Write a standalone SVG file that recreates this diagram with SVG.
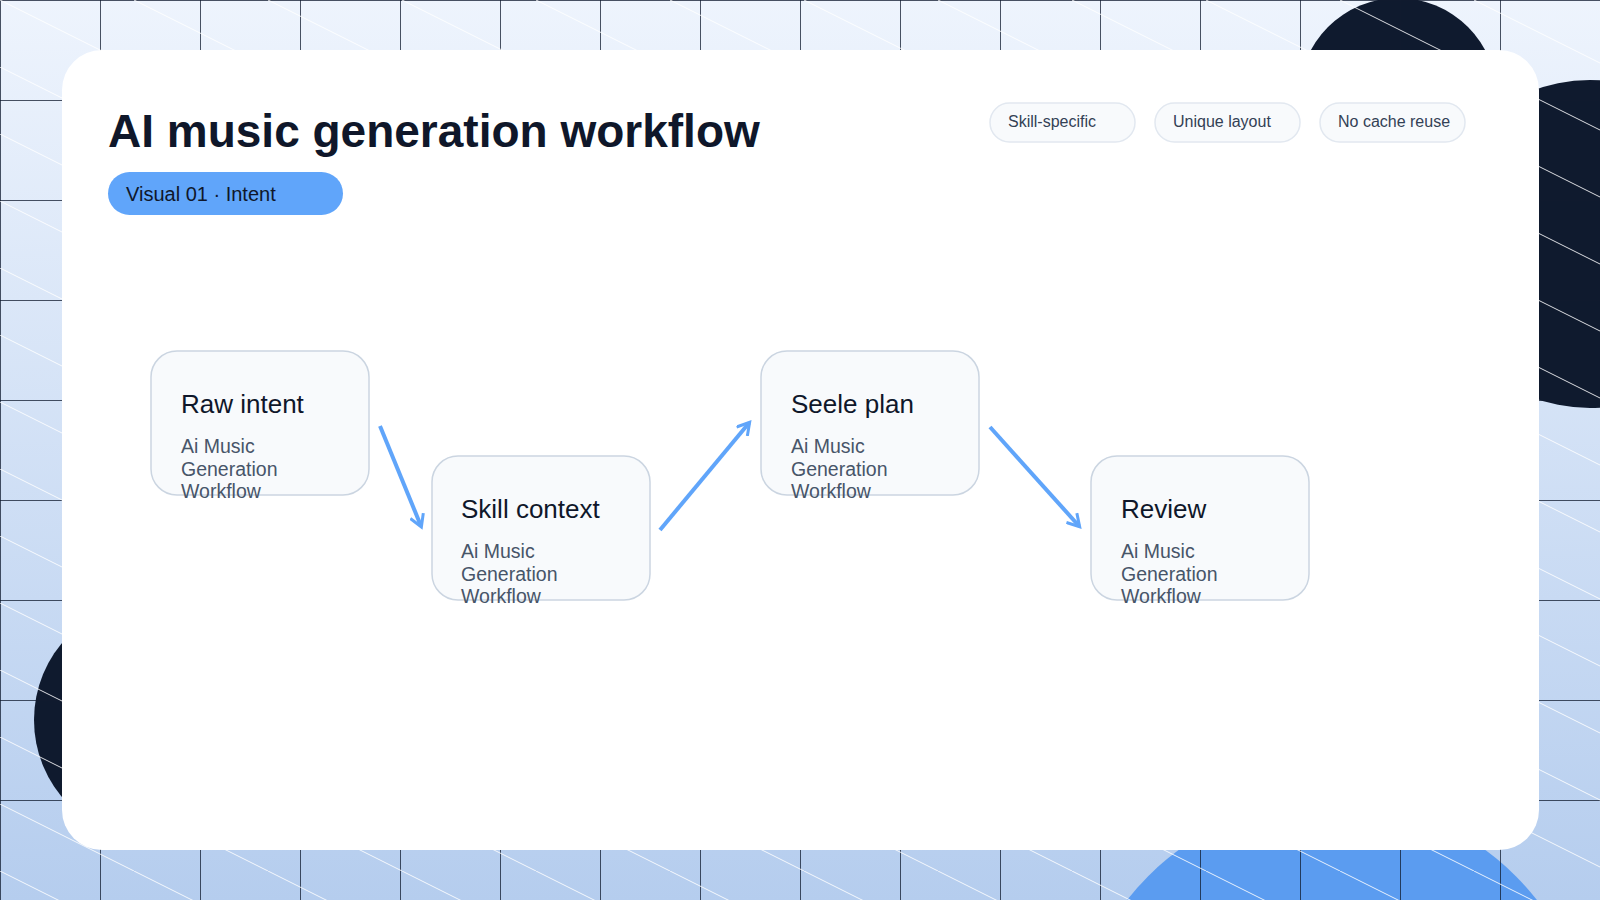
<svg xmlns="http://www.w3.org/2000/svg" width="1600" height="900" viewBox="0 0 1600 900">
<defs>
<linearGradient id="bg" x1="0" y1="0" x2="0" y2="1"><stop offset="0" stop-color="#eef4fd"/><stop offset="1" stop-color="#b5cdee"/></linearGradient>
<pattern id="grid" width="100" height="100" patternUnits="userSpaceOnUse"><path d="M0 0H100M0 0V100" fill="none" stroke="#0f1a2e" stroke-width="1.5"/></pattern>
<pattern id="diag" width="134" height="67" patternUnits="userSpaceOnUse"><path d="M0 0L134 67" stroke="#ffffff" stroke-width="1" opacity="0.85"/></pattern>
<marker id="ah" markerWidth="16" markerHeight="16" refX="12" refY="8" orient="auto" markerUnits="userSpaceOnUse"><path d="M1 1L13 8L1 15" fill="none" stroke="#60a5fa" stroke-width="3"/></marker>
<style>
.node rect{fill:#f8fafc;stroke:#cbd5e1;stroke-width:1.5}
.t{font-family:"Liberation Sans",Arial,sans-serif;font-size:26px;fill:#0f172a}
.s{font-family:"Liberation Sans",Arial,sans-serif;font-size:19.5px;fill:#475569}
.chip rect{fill:#f8fafc;stroke:#e2e8f0;stroke-width:1.5}
.chip text{font-family:"Liberation Sans",Arial,sans-serif;font-size:16px;fill:#334155}
.conn{stroke:#60a5fa;stroke-width:4;fill:none;marker-end:url(#ah)}
</style>
</defs>
<rect width="1600" height="900" fill="url(#bg)"/>
<circle cx="1398" cy="97" r="99" fill="#0f1a2e"/>
<circle cx="1590" cy="244" r="164" fill="#0f1a2e"/>
<circle cx="154" cy="720" r="120" fill="#0f1a2e"/>
<circle cx="1332" cy="1060" r="260" fill="#5b9cf0"/>
<rect width="1600" height="900" fill="url(#grid)"/>
<rect width="1600" height="900" fill="url(#diag)"/>
<rect x="62" y="50" width="1477" height="800" rx="40" fill="#ffffff"/>
<text x="108" y="147" font-family="Liberation Sans,Arial,sans-serif" font-size="46" font-weight="bold" fill="#0f172a">AI music generation workflow</text>
<g id="pill"><rect x="108" y="172" width="235" height="43" rx="21.5" fill="#60a5fa"/><text x="126" y="201" font-family="Liberation Sans,Arial,sans-serif" font-size="20" fill="#0f172a">Visual 01 · Intent</text></g>
<g id="chip1" class="chip"><rect x="990" y="103" width="145" height="39" rx="19.5"/><text x="1008" y="127">Skill-specific</text></g>
<g id="chip2" class="chip"><rect x="1155" y="103" width="145" height="39" rx="19.5"/><text x="1173" y="127">Unique layout</text></g>
<g id="chip3" class="chip"><rect x="1320" y="103" width="145" height="39" rx="19.5"/><text x="1338" y="127">No cache reuse</text></g>
<g id="connectors">
<path class="conn" d="M380 426L421 526"/>
<path class="conn" d="M660 530L749 423"/>
<path class="conn" d="M990 427L1079 526"/>
</g>
<g id="n1" class="node"><rect x="151" y="351" width="218" height="144" rx="26"/><text class="t" x="181" y="413">Raw intent</text><text class="s" x="181" y="453">Ai Music</text><text class="s" x="181" y="476">Generation</text><text class="s" x="181" y="498">Workflow</text></g>
<g id="n2" class="node"><rect x="432" y="456" width="218" height="144" rx="26"/><text class="t" x="461" y="518">Skill context</text><text class="s" x="461" y="558">Ai Music</text><text class="s" x="461" y="581">Generation</text><text class="s" x="461" y="603">Workflow</text></g>
<g id="n3" class="node"><rect x="761" y="351" width="218" height="144" rx="26"/><text class="t" x="791" y="413">Seele plan</text><text class="s" x="791" y="453">Ai Music</text><text class="s" x="791" y="476">Generation</text><text class="s" x="791" y="498">Workflow</text></g>
<g id="n4" class="node"><rect x="1091" y="456" width="218" height="144" rx="26"/><text class="t" x="1121" y="518">Review</text><text class="s" x="1121" y="558">Ai Music</text><text class="s" x="1121" y="581">Generation</text><text class="s" x="1121" y="603">Workflow</text></g>
</svg>
